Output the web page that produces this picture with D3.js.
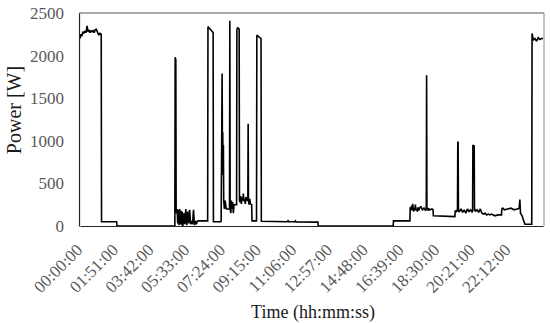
<!DOCTYPE html>
<html>
<head>
<meta charset="utf-8">
<script src="https://cdn.jsdelivr.net/npm/d3@7/dist/d3.min.js"></script>
<style>
  body { margin: 0; background: #fff; }
  svg { display: block; }
</style>
</head>
<body>
<svg id="chart" width="550" height="323"></svg>
<script>
// time in minutes after midnight
const minutes = [
  0,3,6,9,12,16,19,22,25,28,31,34,37,40,44,47,50,53,56,59,62,66,67,114,115,
  295,296,298,299,300,302,304,306,308,310,312,314,316,318,320,323,326,329,332,335,338,341,344,347,350,353,356,359,362,365,367,
  397,398,414,415,438,439,442,443,444,445,446,447,449,451,453,455,465,466,467,469,471,473,475,477,479,487,488,490,495,496,
  498,500,502,504,506,508,510,512,514,516,520,522,523,524,526,528,530,534,535,549,550,563,564,
  645,647,649,668,670,672,740,741,
  974,975,1026,1027,1029,1031,1033,1035,1037,1039,1041,1043,1045,1047,1049,1051,1053,1055,1060,1065,1070,1075,1077,1078,1079,1081,1083,1085,1088,1095,1098,1099,
  1166,1167,1170,1174,1175,1176,1177,1180,1185,1190,1195,1200,1205,1210,1215,1220,1221,1222,1226,1227,1228,1230,
  1235,1240,1245,1250,1255,1260,1265,1270,1275,1280,
  1290,1300,1311,1312,1315,1320,1330,1340,1350,1360,1366,1368,1370,1375,1380,1384,1395,1405,
  1406,1410,1415,1420,1425,1430,1435,1440
];
// power in watts
const power = [
  2200,2250,2230,2280,2260,2290,2270,2350,2280,2300,2270,2290,2280,2300,2270,2300,2310,2290,2260,2240,2260,2250,50,50,0,
  0,1980,1950,200,150,200,30,190,10,200,20,180,10,170,0,150,20,200,10,170,30,190,20,60,20,190,10,60,20,55,60,
  60,2340,2270,50,50,60,1790,900,1100,600,950,300,200,300,250,200,200,2410,200,150,300,200,280,150,250,250,2300,2330,2310,300,
  280,350,260,330,300,380,290,320,260,340,300,300,1200,300,250,320,260,250,60,60,2240,2200,55,
  50,62,50,50,60,48,45,0,
  0,60,60,220,180,240,190,260,170,210,180,250,190,200,170,220,180,200,230,190,210,180,200,1770,200,210,180,200,190,200,190,120,
  110,180,170,190,990,980,170,170,200,160,190,150,200,170,190,160,180,950,940,180,200,170,
  190,160,200,150,140,150,130,140,130,140,
  120,130,130,200,210,190,200,210,190,200,210,310,150,120,60,20,20,20,
  2260,2180,2200,2170,2210,2190,2200,2200
];
const tickMinutes = [0,111,222,333,444,555,666,777,888,999,1110,1221,1332];
const tickLabels = ["00:00:00","01:51:00","03:42:00","05:33:00","07:24:00","09:15:00","11:06:00","12:57:00","14:48:00","16:39:00","18:30:00","20:21:00","22:12:00"];
const yTicks = [0,500,1000,1500,2000,2500];

const svg = d3.select("#chart");
const pL = 79, pR = 544, pT = 13, pB = 226;

const x = d3.scaleLinear().domain([0, 1440]).range([pL + 1, pR - 1]);
const y = d3.scaleLinear().domain([0, 2500]).range([pB, pT]);

const font = "'Liberation Serif', 'DejaVu Serif', serif";

// frame: top and right in gray
svg.append("line").attr("x1", pL).attr("x2", pR).attr("y1", pT).attr("y2", pT)
  .attr("stroke", "#8c8c8c").attr("stroke-width", 1.5);
svg.append("line").attr("x1", pR).attr("x2", pR).attr("y1", pT).attr("y2", pB)
  .attr("stroke", "#8c8c8c").attr("stroke-width", 1);

// data line
const n = Math.min(minutes.length, power.length);
const data = d3.range(n).map(i => [minutes[i], power[i]]);
const line = d3.line().x(d => x(d[0])).y(d => y(d[1]));
svg.append("path").datum(data).attr("d", line)
  .attr("fill", "none").attr("stroke", "#000").attr("stroke-width", 1.6)
  .attr("stroke-linejoin", "miter").attr("stroke-miterlimit", 2);

// y axis
const yAxis = d3.axisLeft(y).tickValues(yTicks).tickSize(0).tickPadding(15).tickFormat(d3.format("d"));
const gy = svg.append("g").attr("transform", `translate(${pL},0)`).call(yAxis);
gy.select(".domain").attr("stroke", "#262626").attr("stroke-width", 1.2);
gy.selectAll("text").attr("font-family", font).attr("font-size", 17).attr("fill", "#595959");

// x axis
const xAxis = d3.axisBottom(x).tickValues(tickMinutes).tickSize(0).tickFormat((d, i) => tickLabels[i]);
const gx = svg.append("g").attr("transform", `translate(0,${pB})`).call(xAxis);
gx.select(".domain").attr("stroke", "#262626").attr("stroke-width", 1.2);
gx.selectAll("text")
  .attr("font-family", font).attr("font-size", 17).attr("fill", "#595959")
  .attr("text-anchor", "end").attr("dy", null).attr("y", 0)
  .attr("transform", "translate(3,25) rotate(-45)");

// axis titles
svg.append("text").attr("x", 313).attr("y", 318).attr("text-anchor", "middle")
  .attr("font-family", font).attr("font-size", 18).attr("fill", "#1a1a1a")
  .text("Time (hh:mm:ss)");
svg.append("text").attr("transform", "translate(21,110) rotate(-90)").attr("text-anchor", "middle")
  .attr("font-family", font).attr("font-size", 20).attr("fill", "#1a1a1a")
  .text("Power [W]");
</script>
</body>
</html>
